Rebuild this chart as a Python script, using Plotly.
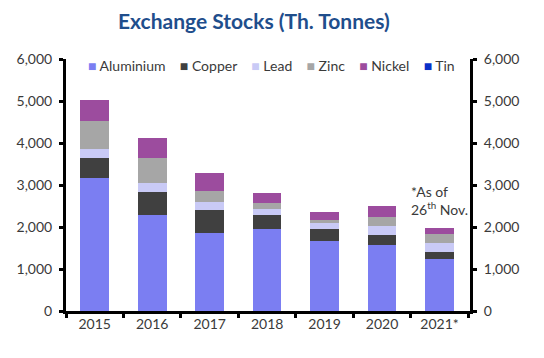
import plotly.graph_objects as go

years = ["2015", "2016", "2017", "2018", "2019", "2020", "2021*"]
aluminium = [3176, 2296, 1856, 1944, 1656, 1560, 1232]
copper = [472, 528, 544, 352, 304, 256, 168]
lead = [208, 232, 192, 136, 136, 208, 216]
zinc = [664, 584, 264, 144, 64, 216, 224]
nickel = [496, 480, 424, 240, 192, 264, 144]
tin = [0, 0, 0, 0, 0, 0, 0]

series_names = ["Aluminium", "Copper", "Lead", "Zinc", "Nickel", "Tin"]
series_values = [aluminium, copper, lead, zinc, nickel, tin]
series_colors = ["#7B7EF2", "#404040", "#C9CAF6", "#A6A6A6", "#9C4C9E", "#0A2FC8"]

y_ticks = [0, 1000, 2000, 3000, 4000, 5000, 6000]
y_ticktext = ["0", "1,000", "2,000", "3,000", "4,000", "5,000", "6,000"]

FONT = "Lato, Carlito, 'Liberation Sans', sans-serif"
TXT = "#3a3a3a"

fig = go.Figure()
for name, vals, col in zip(series_names, series_values, series_colors):
    fig.add_trace(go.Bar(x=years, y=vals, name=name, marker_color=col,
                         marker_line_width=0, width=0.5, showlegend=False))

# invisible trace to carry the right-hand axis
fig.add_trace(go.Scatter(x=years, y=aluminium, yaxis="y2", mode="markers",
                         marker_opacity=0, showlegend=False, hoverinfo="skip"))

legend_html = "&nbsp;&nbsp;&nbsp;&nbsp;".join(
    f'<span style="color:{c}">■</span>&nbsp;{n}' for n, c in zip(series_names, series_colors)
)

axis_common = dict(
    range=[0, 6000], tickvals=y_ticks, ticktext=y_ticktext,
    showgrid=False, zeroline=False, showline=True, linecolor="black", linewidth=3,
    ticks="outside", ticklen=4, tickwidth=2.5, tickcolor="black",
    tickfont=dict(family=FONT, size=14, color=TXT), ticklabelstandoff=4,
)

fig.update_layout(
    width=544, height=358,
    margin=dict(l=66, r=74, t=59, b=47),
    paper_bgcolor="white", plot_bgcolor="white",
    barmode="stack", bargap=0.5,
    title=dict(text="<b>Exchange Stocks (Th. Tonnes)</b>",
               font=dict(family=FONT, size=21, color="#1F4E8C"),
               x=253 / 544, xanchor="center", xref="paper",
               yref="container", y=1 - 22 / 358, yanchor="middle"),
    xaxis=dict(showgrid=False, showline=True, linecolor="black", linewidth=3,
               ticks="outside", tickson="boundaries", ticklen=4, tickwidth=2.5,
               tickcolor="black", tickfont=dict(family=FONT, size=14, color=TXT),
               ticklabelstandoff=-2),
    yaxis=dict(side="left", **axis_common),
    yaxis2=dict(side="right", overlaying="y", **axis_common),
    showlegend=False,
    annotations=[
        dict(text=legend_html, xref="paper", yref="paper",
             x=(271 - 66) / 404, y=1 - 6 / 252, xanchor="center", yanchor="middle",
             showarrow=False, font=dict(family=FONT, size=14, color=TXT)),
        dict(text="*As of<br>26<sup>th</sup> Nov.", x="2021*", y=2640,
             xref="x", yref="y", xanchor="center", yanchor="middle", align="left",
             showarrow=False, font=dict(family=FONT, size=14, color=TXT)),
    ],
)

fig.write_html("out.html", config={"displayModeBar": False},
               post_script="document.body.style.margin='0';")
